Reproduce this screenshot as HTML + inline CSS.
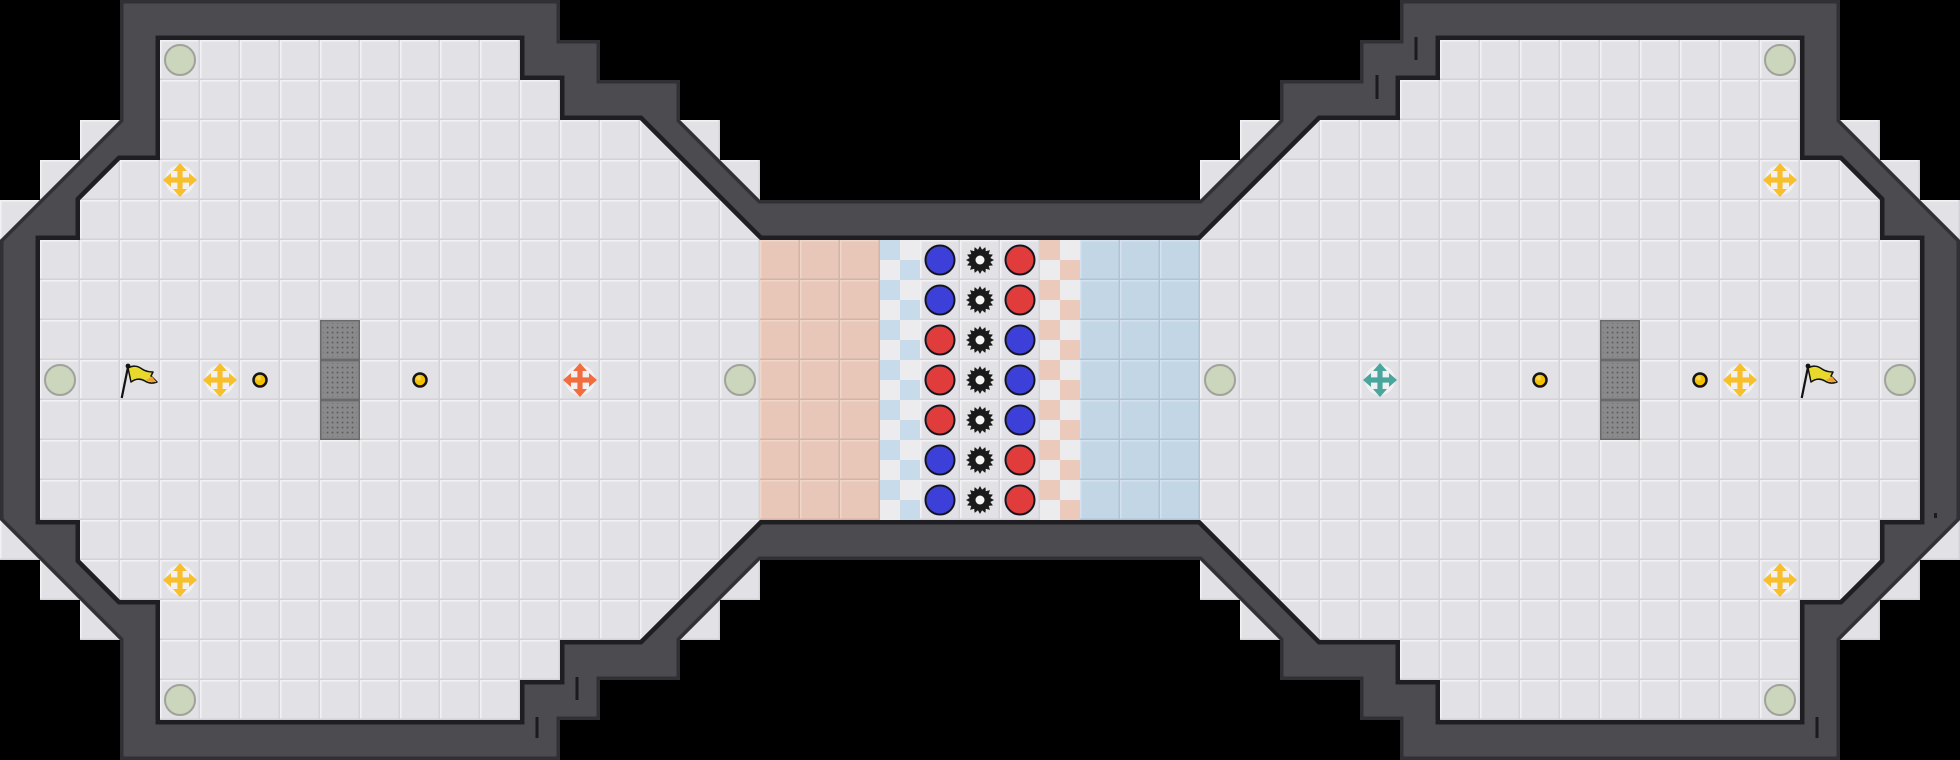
<!DOCTYPE html>
<html>
<head>
<meta charset="utf-8">
<style>
html,body{margin:0;padding:0;background:#000;}
svg{display:block;}
</style>
</head>
<body>
<svg xmlns="http://www.w3.org/2000/svg" width="1960" height="760" viewBox="0 0 1960 760">
<defs>
  <pattern id="t" width="40" height="40" patternUnits="userSpaceOnUse">
    <rect width="40" height="40" fill="#e2e2e6"/>
    <rect width="40" height="1.5" fill="#f2f2f4"/>
    <rect width="1.5" height="40" fill="#f2f2f4"/>
    <rect y="38.5" width="40" height="1.5" fill="#d2d2d8"/>
    <rect x="38.5" width="1.5" height="40" fill="#d2d2d8"/>
  </pattern>
  <pattern id="ts" width="40" height="40" patternUnits="userSpaceOnUse">
    <rect width="40" height="40" fill="#e8c6b8"/>
    <rect width="40" height="1.5" fill="#f1d6ca"/>
    <rect width="1.5" height="40" fill="#f1d6ca"/>
    <rect y="38.5" width="40" height="1.5" fill="#d5b3a5"/>
    <rect x="38.5" width="1.5" height="40" fill="#d5b3a5"/>
  </pattern>
  <pattern id="tb" width="40" height="40" patternUnits="userSpaceOnUse">
    <rect width="40" height="40" fill="#c2d6e5"/>
    <rect width="40" height="1.5" fill="#d3e2ee"/>
    <rect width="1.5" height="40" fill="#d3e2ee"/>
    <rect y="38.5" width="40" height="1.5" fill="#aec4d5"/>
    <rect x="38.5" width="1.5" height="40" fill="#aec4d5"/>
  </pattern>
  <pattern id="chkB" width="40" height="40" patternUnits="userSpaceOnUse">
    <rect width="40" height="40" fill="#ececef"/>
    <rect width="20" height="20" fill="#c7dbea"/>
    <rect x="20" y="20" width="20" height="20" fill="#c7dbea"/>
  </pattern>
  <pattern id="chkS" width="40" height="40" patternUnits="userSpaceOnUse">
    <rect width="40" height="40" fill="#ececef"/>
    <rect width="20" height="20" fill="#ebc9bb"/>
    <rect x="20" y="20" width="20" height="20" fill="#ebc9bb"/>
  </pattern>
  <pattern id="dots" width="5" height="5" patternUnits="userSpaceOnUse">
    <rect x="1.7" y="1.7" width="1.7" height="1.7" fill="#5c5c5e"/>
  </pattern>
  <clipPath id="wc">
    <path clip-rule="evenodd" d="M0,240 L120,120 L120,0 L560,0 L560,40 L600,40 L600,80 L680,80 L680,120 L760,200 L1200,200 L1280,120 L1280,80 L1360,80 L1360,40 L1400,40 L1400,0 L1840,0 L1840,120 L1960,240 L1960,520 L1840,640 L1840,760 L1400,760 L1400,720 L1360,720 L1360,680 L1280,680 L1280,640 L1200,560 L760,560 L680,640 L680,680 L600,680 L600,720 L560,720 L560,760 L120,760 L120,640 L0,520 Z M40,240 L80,240 L80,200 L120,160 L160,160 L160,40 L520,40 L520,80 L560,80 L560,120 L640,120 L760,240 L1200,240 L1320,120 L1400,120 L1400,80 L1440,80 L1440,40 L1800,40 L1800,160 L1840,160 L1880,200 L1880,240 L1920,240 L1920,520 L1880,520 L1880,560 L1840,600 L1800,600 L1800,720 L1440,720 L1440,680 L1400,680 L1400,640 L1320,640 L1200,520 L760,520 L640,640 L560,640 L560,680 L520,680 L520,720 L160,720 L160,600 L120,600 L80,560 L80,520 L40,520 Z"/>
  </clipPath>
  <g id="arr"><polygon points="0,-17 -7,-9 -2.6,-9 -2.6,0 2.6,0 2.6,-9 7,-9"/></g>
  <g id="cross">
    <circle r="15" fill="#ffffff" fill-opacity="0.5"/>
    <use href="#arr"/>
    <use href="#arr" transform="rotate(90)"/>
    <use href="#arr" transform="rotate(180)"/>
    <use href="#arr" transform="rotate(270)"/>
  </g>
  <g id="gear">
    <polygon fill="#1a1a1a" points="14,0 10.3,2.05 12.93,5.36 8.73,5.83 9.9,9.9 5.83,8.73 5.36,12.93 2.05,10.3 0,14 -2.05,10.3 -5.36,12.93 -5.83,8.73 -9.9,9.9 -8.73,5.83 -12.93,5.36 -10.3,2.05 -14,0 -10.3,-2.05 -12.93,-5.36 -8.73,-5.83 -9.9,-9.9 -5.83,-8.73 -5.36,-12.93 -2.05,-10.3 0,-14 2.05,-10.3 5.36,-12.93 5.83,-8.73 9.9,-9.9 8.73,-5.83 12.93,-5.36 10.3,-2.05"/>
    <circle r="4.5" fill="#f4f4f4"/>
  </g>
  <g id="spawn"><circle r="15" fill="#cbd6bd" stroke="#9fa29b" stroke-width="2"/></g>
  <g id="dot">
    <circle r="6.5" fill="#f5c000" stroke="#151515" stroke-width="2.5"/>
    <circle cx="-1.5" cy="-2" r="2.5" fill="#fbe070" fill-opacity="0.7"/>
  </g>
  <g id="flag">
    <path d="M8,8 C13,5 18,6 22,9 C25,11 29,12 33,12 L31,16 C33,18 35,20 37,22 C32,24 28,23 25,21 C20,18 15,19 11,22 Z" fill="#e8da2c" stroke="#111" stroke-width="1.5" stroke-linejoin="round"/>
    <path d="M26,20 C29,21.5 33,22.5 36.5,22 L32,16.5 Z" fill="#f0a030"/>
    <line x1="1.7" y1="38" x2="8" y2="7" stroke="#111" stroke-width="2.2"/>
    <circle cx="8" cy="6" r="2.4" fill="#111"/>
  </g>
  <g id="block">
    <rect width="40" height="120" fill="#6a6a6c"/>
    <rect x="1.5" y="1.5" width="37" height="37" fill="#8a8a8c"/>
    <rect x="1.5" y="41.5" width="37" height="37" fill="#8a8a8c"/>
    <rect x="1.5" y="81.5" width="37" height="37" fill="#8a8a8c"/>
  </g>
</defs>

<rect width="1960" height="760" fill="#000"/>

<!-- floor tiles -->
<g fill="url(#t)">
  <rect x="160" y="40" width="360" height="40"/>
  <rect x="1440" y="40" width="360" height="40"/>
  <rect x="160" y="80" width="400" height="40"/>
  <rect x="1400" y="80" width="400" height="40"/>
  <rect x="80" y="120" width="640" height="40"/>
  <rect x="1240" y="120" width="640" height="40"/>
  <rect x="40" y="160" width="720" height="40"/>
  <rect x="1200" y="160" width="720" height="40"/>
  <rect x="0" y="200" width="760" height="40"/>
  <rect x="1200" y="200" width="760" height="40"/>
  <rect x="0" y="240" width="1960" height="280"/>
  <rect x="0" y="520" width="760" height="40"/>
  <rect x="1200" y="520" width="760" height="40"/>
  <rect x="40" y="560" width="720" height="40"/>
  <rect x="1200" y="560" width="720" height="40"/>
  <rect x="80" y="600" width="640" height="40"/>
  <rect x="1240" y="600" width="640" height="40"/>
  <rect x="160" y="640" width="400" height="40"/>
  <rect x="1400" y="640" width="400" height="40"/>
  <rect x="160" y="680" width="360" height="40"/>
  <rect x="1440" y="680" width="360" height="40"/>
</g>

<!-- corridor special tiles -->
<rect x="760" y="240" width="120" height="280" fill="url(#ts)"/>
<rect x="880" y="240" width="40" height="280" fill="url(#chkB)"/>
<rect x="1040" y="240" width="40" height="280" fill="url(#chkS)"/>
<rect x="1080" y="240" width="120" height="280" fill="url(#tb)"/>

<!-- walls -->
<path fill-rule="evenodd" fill="#4b4b50" d="M0,240 L120,120 L120,0 L560,0 L560,40 L600,40 L600,80 L680,80 L680,120 L760,200 L1200,200 L1280,120 L1280,80 L1360,80 L1360,40 L1400,40 L1400,0 L1840,0 L1840,120 L1960,240 L1960,520 L1840,640 L1840,760 L1400,760 L1400,720 L1360,720 L1360,680 L1280,680 L1280,640 L1200,560 L760,560 L680,640 L680,680 L600,680 L600,720 L560,720 L560,760 L120,760 L120,640 L0,520 Z M40,240 L80,240 L80,200 L120,160 L160,160 L160,40 L520,40 L520,80 L560,80 L560,120 L640,120 L760,240 L1200,240 L1320,120 L1400,120 L1400,80 L1440,80 L1440,40 L1800,40 L1800,160 L1840,160 L1880,200 L1880,240 L1920,240 L1920,520 L1880,520 L1880,560 L1840,600 L1800,600 L1800,720 L1440,720 L1440,680 L1400,680 L1400,640 L1320,640 L1200,520 L760,520 L640,640 L560,640 L560,680 L520,680 L520,720 L160,720 L160,600 L120,600 L80,560 L80,520 L40,520 Z"/>
<g clip-path="url(#wc)" fill="none" stroke-linejoin="miter">
  <path stroke="#313135" stroke-width="7" d="M0,240 L120,120 L120,0 L560,0 L560,40 L600,40 L600,80 L680,80 L680,120 L760,200 L1200,200 L1280,120 L1280,80 L1360,80 L1360,40 L1400,40 L1400,0 L1840,0 L1840,120 L1960,240 L1960,520 L1840,640 L1840,760 L1400,760 L1400,720 L1360,720 L1360,680 L1280,680 L1280,640 L1200,560 L760,560 L680,640 L680,680 L600,680 L600,720 L560,720 L560,760 L120,760 L120,640 L0,520 Z"/>
  <path stroke="#1f1f23" stroke-width="9" d="M40,240 L80,240 L80,200 L120,160 L160,160 L160,40 L520,40 L520,80 L560,80 L560,120 L640,120 L760,240 L1200,240 L1320,120 L1400,120 L1400,80 L1440,80 L1440,40 L1800,40 L1800,160 L1840,160 L1880,200 L1880,240 L1920,240 L1920,520 L1880,520 L1880,560 L1840,600 L1800,600 L1800,720 L1440,720 L1440,680 L1400,680 L1400,640 L1320,640 L1200,520 L760,520 L640,640 L560,640 L560,680 L520,680 L520,720 L160,720 L160,600 L120,600 L80,560 L80,520 L40,520 Z"/>
</g>

<!-- wall marks -->
<g stroke="#1b1b1e" stroke-width="3">
  <line x1="577" y1="677" x2="577" y2="700"/>
  <line x1="537" y1="717" x2="537" y2="738"/>
  <line x1="1416" y1="37" x2="1416" y2="60"/>
  <line x1="1377" y1="75" x2="1377" y2="99"/>
  <line x1="1817" y1="717" x2="1817" y2="738"/>
</g>
<rect x="1934" y="513" width="3" height="5" fill="#1b1b1e"/>

<!-- gray blocks -->
<use href="#block" x="320" y="320"/>
<use href="#block" x="1600" y="320"/>
<rect x="323" y="323" width="34" height="34" fill="url(#dots)"/>
<rect x="323" y="363" width="34" height="34" fill="url(#dots)"/>
<rect x="323" y="403" width="34" height="34" fill="url(#dots)"/>
<rect x="1603" y="323" width="34" height="34" fill="url(#dots)"/>
<rect x="1603" y="363" width="34" height="34" fill="url(#dots)"/>
<rect x="1603" y="403" width="34" height="34" fill="url(#dots)"/>

<!-- spawn ellipses -->
<use href="#spawn" x="180" y="60"/>
<use href="#spawn" x="180" y="700"/>
<use href="#spawn" x="60" y="380"/>
<use href="#spawn" x="740" y="380"/>
<use href="#spawn" x="1780" y="60"/>
<use href="#spawn" x="1780" y="700"/>
<use href="#spawn" x="1900" y="380"/>
<use href="#spawn" x="1220" y="380"/>

<!-- crosses -->
<g fill="#f8bf2c">
  <use href="#cross" x="180" y="180"/>
  <use href="#cross" x="180" y="580"/>
  <use href="#cross" x="220" y="380"/>
  <use href="#cross" x="1780" y="180"/>
  <use href="#cross" x="1780" y="580"/>
  <use href="#cross" x="1740" y="380"/>
</g>
<use href="#cross" x="580" y="380" fill="#f26d3d"/>
<use href="#cross" x="1380" y="380" fill="#4aa69c"/>

<!-- dots -->
<use href="#dot" x="260" y="380"/>
<use href="#dot" x="420" y="380"/>
<use href="#dot" x="1540" y="380"/>
<use href="#dot" x="1700" y="380"/>

<!-- flags -->
<use href="#flag" x="120" y="360"/>
<use href="#flag" x="1800" y="360"/>

<!-- corridor circles and gears -->
<g stroke="#15151f" stroke-width="2">
  <circle cx="940" cy="260" r="14.5" fill="#3c40d8"/>
  <circle cx="940" cy="300" r="14.5" fill="#3c40d8"/>
  <circle cx="940" cy="340" r="14.5" fill="#e03c3c"/>
  <circle cx="940" cy="380" r="14.5" fill="#e03c3c"/>
  <circle cx="940" cy="420" r="14.5" fill="#e03c3c"/>
  <circle cx="940" cy="460" r="14.5" fill="#3c40d8"/>
  <circle cx="940" cy="500" r="14.5" fill="#3c40d8"/>
  <circle cx="1020" cy="260" r="14.5" fill="#e03c3c"/>
  <circle cx="1020" cy="300" r="14.5" fill="#e03c3c"/>
  <circle cx="1020" cy="340" r="14.5" fill="#3c40d8"/>
  <circle cx="1020" cy="380" r="14.5" fill="#3c40d8"/>
  <circle cx="1020" cy="420" r="14.5" fill="#3c40d8"/>
  <circle cx="1020" cy="460" r="14.5" fill="#e03c3c"/>
  <circle cx="1020" cy="500" r="14.5" fill="#e03c3c"/>
</g>
<use href="#gear" x="980" y="260"/>
<use href="#gear" x="980" y="300"/>
<use href="#gear" x="980" y="340"/>
<use href="#gear" x="980" y="380"/>
<use href="#gear" x="980" y="420"/>
<use href="#gear" x="980" y="460"/>
<use href="#gear" x="980" y="500"/>
</svg>
</body>
</html>
